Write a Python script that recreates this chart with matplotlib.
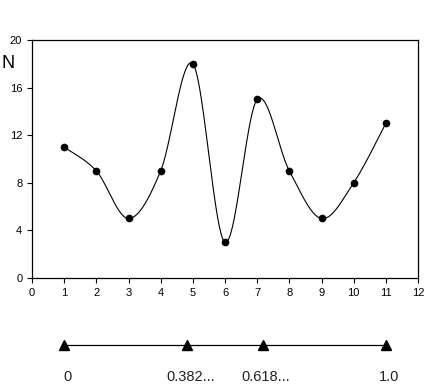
import numpy as np
import matplotlib
matplotlib.use("Agg")
import matplotlib.pyplot as plt

plt.rcParams["font.family"] = ["Liberation Sans", "DejaVu Sans"]

# data
x = [1, 2, 3, 4, 5, 6, 7, 8, 9, 10, 11]
n = [11, 9, 5, 9, 18, 3, 15, 9, 5, 8, 13]

# golden-section scale drawn under the chart
ratios = [0.0, 0.382, 0.618, 1.0]
ratio_labels = ["0", "0.382...", "0.618...", "1.0"]


def smooth(xs, ys, steps=40):
    # Catmull-Rom style Bezier smoothing, like a spreadsheet "smoothed line"
    xs = np.asarray(xs, float)
    ys = np.asarray(ys, float)
    px = np.concatenate([[xs[0]], xs, [xs[-1]]])
    py = np.concatenate([[ys[0]], ys, [ys[-1]]])
    out_x, out_y = [], []
    t = np.linspace(0, 1, steps)
    for i in range(1, len(px) - 2):
        p0 = np.array([px[i], py[i]])
        p3 = np.array([px[i + 1], py[i + 1]])
        p1 = p0 + (p3 - np.array([px[i - 1], py[i - 1]])) / 6
        p2 = p3 - (np.array([px[i + 2], py[i + 2]]) - p0) / 6
        b = ((1 - t) ** 3)[:, None] * p0 + (3 * (1 - t) ** 2 * t)[:, None] * p1 \
            + (3 * (1 - t) * t ** 2)[:, None] * p2 + (t ** 3)[:, None] * p3
        out_x.extend(b[:, 0])
        out_y.extend(b[:, 1])
    return out_x, out_y


fig = plt.figure(figsize=(4.41, 3.89), dpi=100)
ax = fig.add_axes([32 / 441, 111 / 389, 386 / 441, 238 / 389])

sx, sy = smooth(x, n)
ax.plot(sx, sy, color="black", lw=0.8)
ax.plot(x, n, "o", color="black", ms=4.5)

ax.set_xlim(0, 12)
ax.set_ylim(0, 20)
ax.set_xticks(range(0, 13))
ax.set_yticks(range(0, 21, 4))
ax.tick_params(labelsize=8, length=3.5, width=0.8, direction="out")
for s in ax.spines.values():
    s.set_linewidth(0.9)
ax.text(-0.045, 0.9, "N", transform=ax.transAxes, fontsize=13,
        ha="right", va="center")

# scale axis shares the chart's x range
bx = fig.add_axes([32 / 441, 0, 386 / 441, 60 / 389])
bx.set_xlim(0, 12)
bx.set_ylim(0, 1)
bx.axis("off")
pos = [x[0] + r * (x[-1] - x[0]) for r in ratios]
bx.plot([pos[0], pos[-1]], [0.73, 0.73], color="black", lw=0.9)
bx.plot(pos, [0.73] * len(pos), "^", color="black", ms=7)
for p, lab in zip(pos, ratio_labels):
    bx.text(p + 0.1, 0.2, lab, ha="center", va="center", fontsize=10.5,
            color="#222222")

fig.savefig("out.png", dpi=100)
